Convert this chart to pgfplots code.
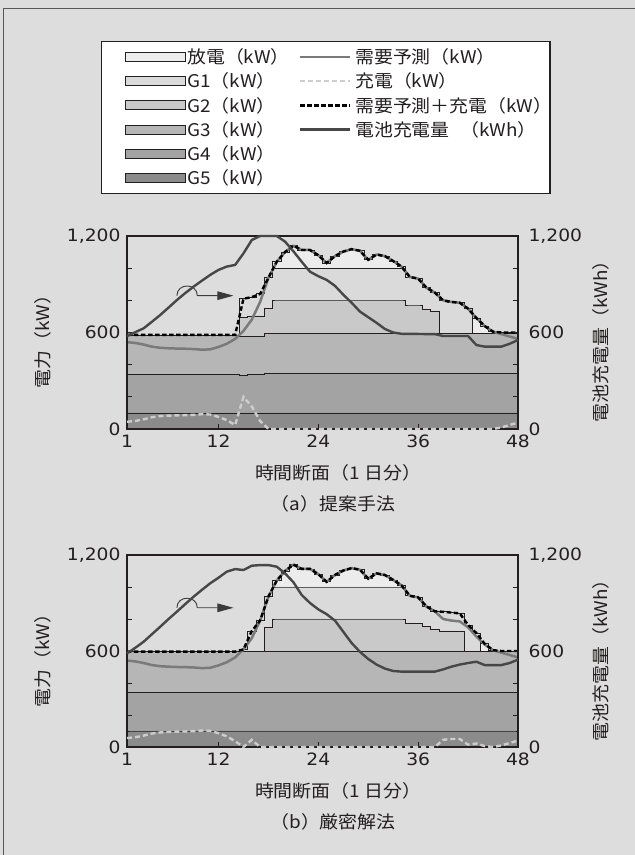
\documentclass[border=0pt]{standalone}
\usepackage{fontspec}
\setmainfont[FakeStretch=1.08]{Noto Sans CJK JP}
\newfontfamily\tickfam[FakeStretch=1.1]{DejaVu Sans}
\usepackage{pgfplots}
\pgfplotsset{compat=1.18}
\usepackage{pgfplotstable}
\usetikzlibrary{arrows.meta}

\definecolor{bg}{HTML}{DCDDDC}
\definecolor{ink}{HTML}{231F20}
\definecolor{cDis}{HTML}{EBECEB}
\definecolor{cGa}{HTML}{DADADA}
\definecolor{cGb}{HTML}{C9C9C9}
\definecolor{cGc}{HTML}{B6B6B6}
\definecolor{cGd}{HTML}{A3A3A3}
\definecolor{cGe}{HTML}{8B8B8B}
\definecolor{cDem}{HTML}{7A7A7A}
\definecolor{cBat}{HTML}{474747}
\definecolor{cChg}{HTML}{CDCDCD}
\definecolor{cArr}{HTML}{3A3A3A}

\newcommand{\lblfont}{\fontsize{17.5}{20}\selectfont}
\newcommand{\tickfont}{\tickfam\fontsize{17}{19}\selectfont}

% t tot g1 g2 g3 g4 g5 dem chg bat  (cumulative tops of the stacked layers)
\pgfplotstableread{
t tot g1 g2 g3 g4 g5 dem chg bat
1 585 585 585 585 338 100 540 45 578
2 585 585 585 585 338 100 535 50 602
3 585 585 585 585 338 100 525 60 626
4 585 585 585 585 338 100 512 73 667
5 585 585 585 585 338 100 505 80 709
6 585 585 585 585 338 100 502 83 755
7 585 585 585 585 338 100 500 85 802
8 585 585 585 585 338 100 499 86 845
9 585 585 585 585 338 100 497 88 885
10 585 585 585 585 338 100 493 92 922
11 585 585 585 585 338 100 495 90 958
12 585 585 585 585 338 100 510 75 989
13 585 585 585 585 338 100 530 55 1010
14 585 585 585 585 338 100 560 25 1020
15 810 810 692 578 334 100 610 200 1092
16 820 820 703 578 338 100 680 140 1175
17 840 840 703 578 338 100 790 50 1200
18 940 940 750 596 348 100 940 0 1200
19 1040 1000 802 596 348 100 1040 0 1200
20 1100 1000 802 596 348 100 1100 0 1165
21 1140 1000 802 596 348 100 1140 0 1105
22 1113 1000 802 596 348 100 1113 0 1040
23 1113 1000 802 596 348 100 1113 0 978
24 1080 1000 802 596 348 100 1080 0 950
25 1032 1000 802 596 348 100 1032 0 927
26 1075 1000 802 596 348 100 1075 0 890
27 1103 1000 802 596 348 100 1103 0 835
28 1118 1000 802 596 348 100 1118 0 785
29 1108 1000 802 596 348 100 1108 0 730
30 1052 1000 802 596 348 100 1052 0 695
31 1085 1000 802 596 348 100 1085 0 660
32 1075 1000 802 596 348 100 1075 0 622
33 1044 1000 802 596 348 100 1044 0 600
34 1010 1000 802 596 348 100 1010 0 592
35 945 945 771 596 348 100 945 0 591
36 935 935 771 596 348 100 935 0 591
37 878 878 746 596 348 100 878 0 590
38 848 848 730 596 348 100 848 0 590
39 800 800 596 596 348 100 800 0 578
40 790 790 596 596 348 100 790 0 578
41 785 785 596 596 348 100 785 0 578
42 748 748 596 596 348 100 748 0 578
43 690 596 596 596 348 100 690 0 522
44 640 596 596 596 348 100 640 0 512
45 605 596 596 596 348 100 605 0 512
46 600 596 596 596 348 100 590 10 512
47 600 596 596 596 348 100 575 25 530
48 600 596 596 596 348 100 560 40 553
}\dataA

\pgfplotstableread{
t tot g1 g2 g3 g4 g5 dem chg bat
1 596 596 596 596 342 100 540 56 585
2 596 596 596 596 342 100 535 61 620
3 596 596 596 596 342 100 525 71 658
4 596 596 596 596 342 100 512 84 705
5 596 596 596 596 342 100 505 91 752
6 596 596 596 596 342 100 502 94 800
7 596 596 596 596 342 100 500 96 846
8 596 596 596 596 342 100 499 97 893
9 596 596 596 596 342 100 497 99 939
10 596 596 596 596 342 100 493 103 982
11 596 596 596 596 342 100 495 101 1023
12 596 596 596 596 342 100 510 86 1058
13 596 596 596 596 342 100 530 66 1096
14 596 596 596 596 342 100 560 36 1112
15 610 610 596 596 342 100 610 0 1106
16 725 725 596 596 342 100 680 45 1133
17 790 790 596 596 342 100 790 0 1137
18 940 940 745 596 342 100 940 0 1137
19 1040 1000 800 596 342 100 1040 0 1127
20 1100 1000 800 596 342 100 1100 0 1085
21 1140 1000 800 596 342 100 1140 0 1030
22 1113 1000 800 596 342 100 1113 0 950
23 1113 1000 800 596 342 100 1113 0 900
24 1080 1000 800 596 342 100 1080 0 860
25 1032 1000 800 596 342 100 1032 0 830
26 1075 1000 800 596 342 100 1075 0 790
27 1103 1000 800 596 342 100 1103 0 720
28 1118 1000 800 596 342 100 1118 0 650
29 1108 1000 800 596 342 100 1108 0 595
30 1052 1000 800 596 342 100 1052 0 550
31 1085 1000 800 596 342 100 1085 0 515
32 1075 1000 800 596 342 100 1075 0 490
33 1044 1000 800 596 342 100 1044 0 475
34 1010 1000 800 596 342 100 1010 0 471
35 945 945 773 596 342 100 945 0 471
36 935 935 773 596 342 100 935 0 471
37 878 878 752 596 342 100 878 0 471
38 848 848 735 596 342 100 848 0 471
39 845 845 720 596 342 100 800 45 485
40 840 840 720 596 342 100 790 50 502
41 835 835 720 596 342 100 785 50 515
42 763 763 596 596 342 100 748 15 525
43 712 712 596 596 342 100 690 22 533
44 645 596 596 596 342 100 640 5 512
45 605 596 596 596 342 100 605 0 512
46 600 596 596 596 342 100 590 10 512
47 600 596 596 596 342 100 575 25 525
48 600 596 596 596 342 100 560 40 546
}\dataB

\pgfplotsset{
  base/.style={
    scale only axis, width=391pt,
    xmin=1, xmax=48, ymin=0, ymax=1200,
    anchor=south west,
    /pgf/number format/1000 sep={,},
    /pgf/number format/assume math mode=true,
    tick label style={font=\tickfont, text=ink},
  },
  mainax/.style={
    base,
    xtick={1,12,24,36,48}, ytick={0,600,1200},
    minor ytick={200,400,800,1000},
    xtick pos=bottom, ytick pos=both, yticklabel pos=left,
    tick align=inside,
    major tick length=5pt, minor tick length=5pt,
    tick style={ink, line width=0.9pt},
    axis line style={ink, line width=1.6pt},
    axis on top,
    yticklabel style={xshift=-3pt},
    xticklabel style={yshift=-2.5pt},
  },
  rightax/.style={
    base,
    axis x line=none, axis y line*=right,
    axis line style={draw=none},
    ytick={0,600,1200}, major tick length=0pt,
    yticklabel style={xshift=7pt},
    clip=false,
  },
  layer/.style={const plot mark mid, draw=ink, line width=0.8pt, fill=#1},
  demline/.style={cDem, line width=2.5pt, line join=round},
  chgline/.style={cChg, line width=2.4pt, dash pattern=on 5pt off 3pt},
  totline/.style={black, line width=2.4pt, dash pattern=on 4.5pt off 2.5pt},
  batline/.style={cBat, line width=2.4pt, line join=round},
}

\newcommand{\charts}[2]{%
  \addplot[layer=cDis] table[x=t,y=tot]{#1} \closedcycle;
  \addplot[layer=cGa] table[x=t,y=g1]{#1} \closedcycle;
  \addplot[layer=cGb] table[x=t,y=g2]{#1} \closedcycle;
  \addplot[layer=cGc] table[x=t,y=g3]{#1} \closedcycle;
  \addplot[layer=cGd] table[x=t,y=g4]{#1} \closedcycle;
  \addplot[layer=cGe] table[x=t,y=g5]{#1} \closedcycle;
  \addplot[demline] table[x=t,y=dem]{#1};
  \addplot[totline] table[x=t,y=tot]{#1};
  \draw[cArr, line width=0.9pt, -{Triangle[length=16pt,width=8.5pt]}]
    (axis cs:7.0,#2) .. controls (axis cs:7.0,#2+80) and (axis cs:9.45,#2+80) ..
    (axis cs:9.45,#2) -- (axis cs:13.8,#2);
}

\begin{document}
\begin{tikzpicture}
\fill[bg] (0pt,0pt) rectangle (635pt,855pt);
\useasboundingbox (0pt,0pt) rectangle (635pt,855pt);
\draw[line width=1pt, color=black!65] (3.3pt,0pt) -- (3.3pt,846.7pt) -- (635pt,846.7pt);

% legend
\draw[ink, line width=1.2pt, fill=white] (101.5pt,661.5pt) rectangle (550pt,813.3pt);
\foreach \y/\c/\txt in {798/cDis/放電（kW）, 773.8/cGa/G1（kW）, 749.6/cGb/G2（kW）,
                         725.4/cGc/G3（kW）, 701.2/cGd/G4（kW）, 677/cGe/G5（kW）}{
  \draw[ink, line width=0.8pt, fill=\c] (125pt,\y pt-4.5pt) rectangle (185pt,\y pt+4.5pt);
  \node[anchor=west, inner sep=0pt, text=ink, font=\lblfont] at (187pt,\y pt) {\txt};
}
\draw[cDem, line width=2.8pt] (300pt,798pt) -- (350pt,798pt);
\node[anchor=west, inner sep=0pt, text=ink, font=\lblfont] at (355pt,798pt) {需要予測（kW）};
\draw[cChg, line width=2.4pt, dash pattern=on 5pt off 3pt] (300pt,773.8pt) -- (350pt,773.8pt);
\node[anchor=west, inner sep=0pt, text=ink, font=\lblfont] at (355pt,773.8pt) {充電（kW）};
\draw[black, line width=2.4pt, dash pattern=on 4.5pt off 2.5pt] (300pt,749.6pt) -- (350pt,749.6pt);
\node[anchor=west, inner sep=0pt, text=ink, font=\lblfont] at (355pt,749.6pt) {需要予測＋充電（kW）};
\draw[cBat, line width=2.4pt] (300pt,725.4pt) -- (350pt,725.4pt);
\node[anchor=west, inner sep=0pt, text=ink, font=\lblfont] at (355pt,725.4pt) {電池充電量\hspace{0.6em}（kWh）};

% (a)
\begin{axis}[mainax, height=193pt, at={(127pt,426pt)}]
  \charts{\dataA}{829}
\end{axis}
\begin{axis}[rightax, height=193pt, at={(127pt,426pt)}]
  \addplot[chgline] table[x=t,y=chg]{\dataA};
  \addplot[batline] table[x=t,y=bat]{\dataA};
\end{axis}
\node[font=\lblfont, text=ink] at (338pt,382pt) {時間断面（1 日分）};
\node[font=\lblfont, text=ink] at (333pt,351pt) {（a）提案手法};
\node[font=\lblfont, text=ink, rotate=90] at (43pt,518pt) {電力（kW）};
\node[font=\lblfont, text=ink, rotate=90] at (601pt,518pt) {電池充電量（kWh）};

% (b)
\begin{axis}[mainax, height=192pt, at={(127pt,108pt)}]
  \charts{\dataB}{870}
\end{axis}
\begin{axis}[rightax, height=192pt, at={(127pt,108pt)}]
  \addplot[chgline] table[x=t,y=chg]{\dataB};
  \addplot[batline] table[x=t,y=bat]{\dataB};
\end{axis}
\node[font=\lblfont, text=ink] at (338pt,64pt) {時間断面（1 日分）};
\node[font=\lblfont, text=ink] at (333pt,33pt) {（b）厳密解法};
\node[font=\lblfont, text=ink, rotate=90] at (43pt,199pt) {電力（kW）};
\node[font=\lblfont, text=ink, rotate=90] at (601pt,199pt) {電池充電量（kWh）};
\end{tikzpicture}
\end{document}
